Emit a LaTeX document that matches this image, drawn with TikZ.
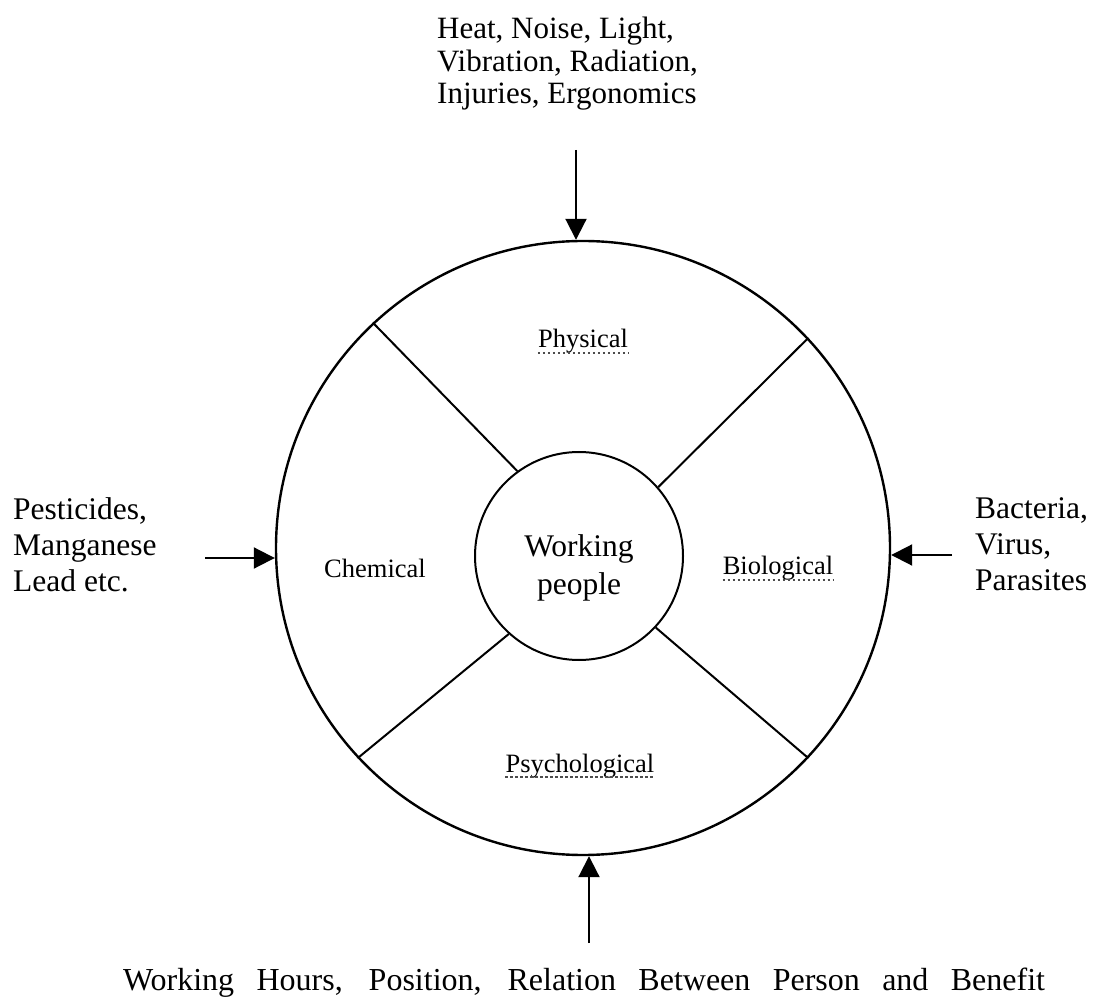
\documentclass[tikz,border=0pt]{standalone}
\usepackage{fontspec}
\setmainfont{Liberation Serif}
\usetikzlibrary{arrows.meta}
\begin{document}
\begin{tikzpicture}[x=1pt,y=1pt,
  bigtext/.style={font=\fontsize{31.5}{36}\selectfont, inner sep=0pt},
  sectorlabel/.style={font=\fontsize{26.5}{30}\selectfont, inner sep=0pt},
  ring/.style={circle, draw, line width=2.4pt, inner sep=0pt},
  divider/.style={line width=2pt},
  push/.style={line width=2pt, -{Triangle[width=21pt,length=21pt]}},
  squiggle/.style={line width=1.6pt, black!70, dash pattern=on 2.5pt off 2.5pt}]
\useasboundingbox (0,0) rectangle (1099,999);

% rings
\node[ring, minimum size=614pt] (outer) at (583,451) {};
\node[ring, line width=2pt, minimum size=208pt] (core) at (579,443) {};
\node[bigtext, align=center, anchor=base] (coretext) at (579,404) {Working\\[2pt]people};

% sector dividers
\draw[divider] (core.126) -- (outer.133);
\draw[divider] (core.41) -- (outer.43);
\draw[divider] (core.228) -- (outer.223);
\draw[divider] (core.317) -- (outer.317.5);

% sector labels
\node[sectorlabel, anchor=base] (phys) at (583,651) {Physical};
\node[sectorlabel, anchor=base] (chem) at (375,421) {Chemical};
\node[sectorlabel, anchor=base] (bio) at (778,424) {Biological};
\node[sectorlabel, anchor=base] (psy) at (580,227) {Psychological};
\draw[squiggle] ([yshift=-5pt]phys.base west) -- ([yshift=-5pt]phys.base east);
\draw[squiggle] ([yshift=-5pt]bio.base west) -- ([yshift=-5pt]bio.base east);
\draw[squiggle] ([yshift=-5pt]psy.base west) -- ([yshift=-5pt]psy.base east);

% hazard groups
\node[bigtext, align=left, anchor=north west, font=\fontsize{31}{32.5}\selectfont] (phystext) at (437,982)
  {Heat, Noise, Light,\\Vibration, Radiation,\\Injuries, Ergonomics};
\node[bigtext, align=left, anchor=north west] (chemtext) at (13,502)
  {Pesticides,\\Manganese\\Lead etc.};
\node[bigtext, align=left, anchor=north west] (biotext) at (975,502)
  {Bacteria,\\Virus,\\Parasites};
\node[bigtext, anchor=base, font=\fontsize{32}{36}\selectfont] (psytext) at (584,9)
  {\makebox[922pt][s]{Working Hours, Position, Relation Between Person and Benefit}};

% arrows into the ring
\coordinate (topstart) at (576,849);
\coordinate (leftstart) at (205,441);
\coordinate (rightstart) at (952,444);
\coordinate (bottomstart) at (589,56);
\draw[push] (topstart) -- (topstart |- outer.north);
\draw[push] (leftstart) -- (leftstart -| outer.west);
\draw[push] (rightstart) -- (rightstart -| outer.east);
\draw[push] (bottomstart) -- (bottomstart |- outer.south);
\end{tikzpicture}
\end{document}
